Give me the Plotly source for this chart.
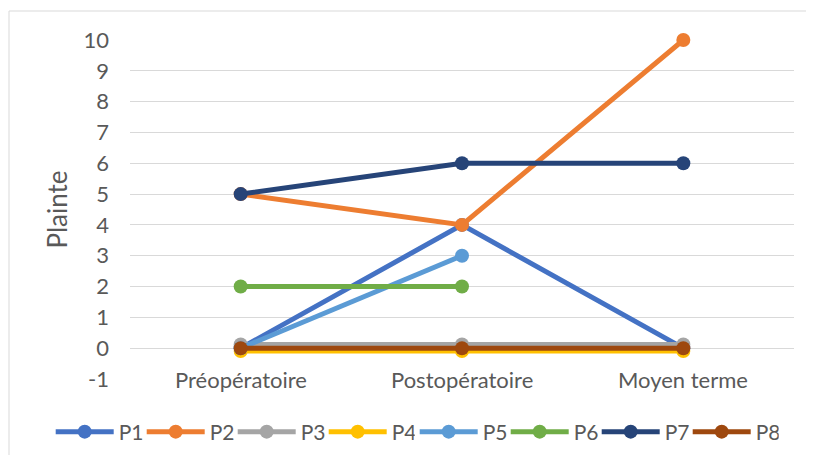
import plotly.graph_objects as go

categories = ["Préopératoire", "Postopératoire", "Moyen terme"]
series_names = ["P1", "P2", "P3", "P4", "P5", "P6", "P7", "P8"]
p1 = [0, 4, 0]
p2 = [5, 4, 10]
p3 = [0.12, 0.12, 0.12]
p4 = [-0.09, -0.09, -0.09]
p5 = [0, 3, None]
p6 = [2, 2, None]
p7 = [5, 6, 6]
p8 = [0, 0, 0]
series_values = [p1, p2, p3, p4, p5, p6, p7, p8]
colors = ["#4472C4", "#ED7D31", "#A5A5A5", "#FFC000", "#5B9BD5", "#70AD47", "#264478", "#9E480E"]
y_ticks = list(range(-1, 11))
y_tick_text = [str(v) for v in y_ticks]

FONT = "Lato"
TXT = "#595959"

# page body has an 8px default margin on every side; figure is sized to fit inside
W, H = 798, 447
ML, MR, MT, MB = 122, 12, 32, 76
PW, PH = W - ML - MR, H - MT - MB
ENTRY = 91  # pixel pitch of legend entries
LEG_X0 = 42.7 / W
LEG_Y = 1 - 424 / H

fig = go.Figure()
for i, (name, vals, col) in enumerate(zip(series_names, series_values, colors)):
    fig.add_trace(go.Scatter(
        x=categories, y=vals, name=name, mode="lines+markers",
        line=dict(color=col, width=5),
        marker=dict(color=col, size=14),
        cliponaxis=False,
        legend="legend" if i < 4 else "legend2",
    ))

for c in categories:
    fig.add_annotation(x=c, y=-1, xref="x", yref="y", text=c, showarrow=False,
                       bgcolor="white", font=dict(family=FONT, size=22, color=TXT),
                       borderpad=1)

fig.add_shape(type="rect", xref="paper", yref="paper",
              x0=(1 - ML) / PW, x1=(W + 40 - ML) / PW,
              y0=-(MB + 40) / PH, y1=(PH + MT - 3) / PH,
              line=dict(color="#D9D9D9", width=1), fillcolor="rgba(0,0,0,0)", layer="below")

leg_common = dict(orientation="h", xref="container", yref="container",
                  y=LEG_Y, xanchor="left", yanchor="middle",
                  font=dict(family=FONT, size=21, color=TXT),
                  entrywidth=ENTRY - 73, entrywidthmode="pixels",
                  itemwidth=58, tracegroupgap=0)

fig.update_layout(
    width=W, height=H,
    margin=dict(l=ML, r=MR, t=MT, b=MB, autoexpand=False),
    paper_bgcolor="white", plot_bgcolor="white",
    font=dict(family=FONT, size=22, color=TXT),
    showlegend=True,
    legend=dict(x=LEG_X0, **leg_common),
    legend2=dict(x=LEG_X0 + 4 * ENTRY / W, **leg_common),
)
fig.update_xaxes(type="category", range=[-0.5, 2.5], showgrid=False, automargin=False,
                 showticklabels=False, zeroline=False, showline=False, ticks="")
fig.update_yaxes(range=[-1.0001, 10.0001], tickvals=y_ticks, ticktext=y_tick_text,
                 showgrid=True, automargin=False,
                 gridcolor="#D9D9D9", gridwidth=1, zeroline=False, showline=False,
                 ticklabelstandoff=20,
                 tickfont=dict(family=FONT, size=22, color=TXT),
                 title=dict(text="Plainte", font=dict(family=FONT, size=26, color=TXT), standoff=8))

fig.write_html("out.html", config={"displayModeBar": False})
